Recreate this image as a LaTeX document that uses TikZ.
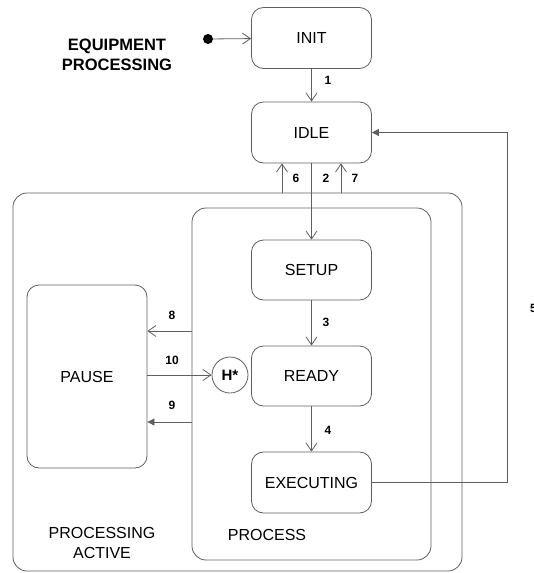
\documentclass[tikz,border=0pt]{standalone}
\usepackage{fontspec}
\setmainfont{Liberation Sans}
\usetikzlibrary{arrows.meta}
\definecolor{ln}{RGB}{95,95,95}
\tikzset{
  x=1pt, y=-1pt,
  state/.style={draw=ln, line width=0.8pt, rounded corners=12pt, minimum width=120pt, minimum height=61pt, inner sep=0pt, font=\fontsize{16}{19}\selectfont},
  region/.style={draw=ln, line width=0.8pt, rounded corners=14pt},
  conn/.style={draw=ln, line width=0.8pt},
  openarr/.style={conn, -{Straight Barb[length=8pt,width=11pt,line width=0.8pt]}},
  fillarr/.style={conn, -{Triangle[length=7pt,width=7pt]}, },
  lbl/.style={font=\fontsize{12}{14}\selectfont\bfseries, inner sep=0pt},
  plain/.style={font=\fontsize{16}{20}\selectfont, align=center, inner sep=0pt}
}
\begin{document}
\begin{tikzpicture}
\useasboundingbox (0,0) rectangle (533,573);
% regions
\draw[region] (13,193) rectangle (462,571);
\draw[region] (192,208) rectangle (431,560);
\coordinate (outerTop) at (13,193);
\coordinate (innerLeft) at (192,208);
% states
\node[state] (init) at (311.5,38) {INIT};
\node[state] (idle) at (311.5,132.5) {IDLE};
\node[state, minimum height=60pt] (setup) at (311.5,270) {SETUP};
\node[state, minimum height=60pt] (ready) at (311.5,376) {READY};
\node[state] (exec) at (311.5,482.5) {EXECUTING};
\node[state, minimum height=183pt] (pause) at (87,376.5) {PAUSE};
\node[draw=ln, line width=0.8pt, circle, minimum size=36pt, inner sep=0pt, font=\fontsize{15}{18}\selectfont\bfseries] (hist) at (230,375) {H*};
\node[fill=black, circle, minimum size=10pt, inner sep=0pt] (dot) at (208,39) {};
% texts
\node[plain, font=\fontsize{16.5}{20}\selectfont\bfseries] (title) at (117,55) {EQUIPMENT\\PROCESSING};
\node[plain] (palbl) at (102,543) {PROCESSING\\ACTIVE};
\node[plain] (prlbl) at (267,535) {PROCESS};
% connectors
\draw[openarr] (dot) -- (init);
\draw[openarr] (init) -- (idle);
\draw[openarr] (idle) -- (setup);
\draw[openarr] (setup) -- (ready);
\draw[openarr] (ready) -- (exec);
\coordinate (x6) at (282,0);
\coordinate (x7) at (341,0);
\draw[openarr] (x6 |- outerTop) -- (x6 |- idle.south);
\draw[openarr] (x7 |- outerTop) -- (x7 |- idle.south);
\coordinate (y8) at (0,331);
\coordinate (y9) at (0,422);
\draw[openarr] (innerLeft |- y8) -- (pause.east |- y8);
\draw[fillarr] (innerLeft |- y9) -- (pause.east |- y9);
\draw[openarr] (pause.east |- hist) -- (hist);
\coordinate (x5) at (507,0);
\draw[fillarr] (exec.east) -- (x5 |- exec.east) -- (x5 |- idle.east) -- (idle.east);
% labels
\node[lbl] (l1) at (328,80) {1};
\node[lbl] (l6) at (296,178) {6};
\node[lbl] (l2) at (326,178) {2};
\node[lbl] (l7) at (355,178) {7};
\node[lbl] (l8) at (172,315) {8};
\node[lbl] (l10) at (172,360) {10};
\node[lbl] (l9) at (172,405) {9};
\node[lbl] (l3) at (326,322) {3};
\node[lbl] (l4) at (328,430) {4};
\node[lbl, anchor=west] (l5) at (530,308) {5};
\end{tikzpicture}
\end{document}
